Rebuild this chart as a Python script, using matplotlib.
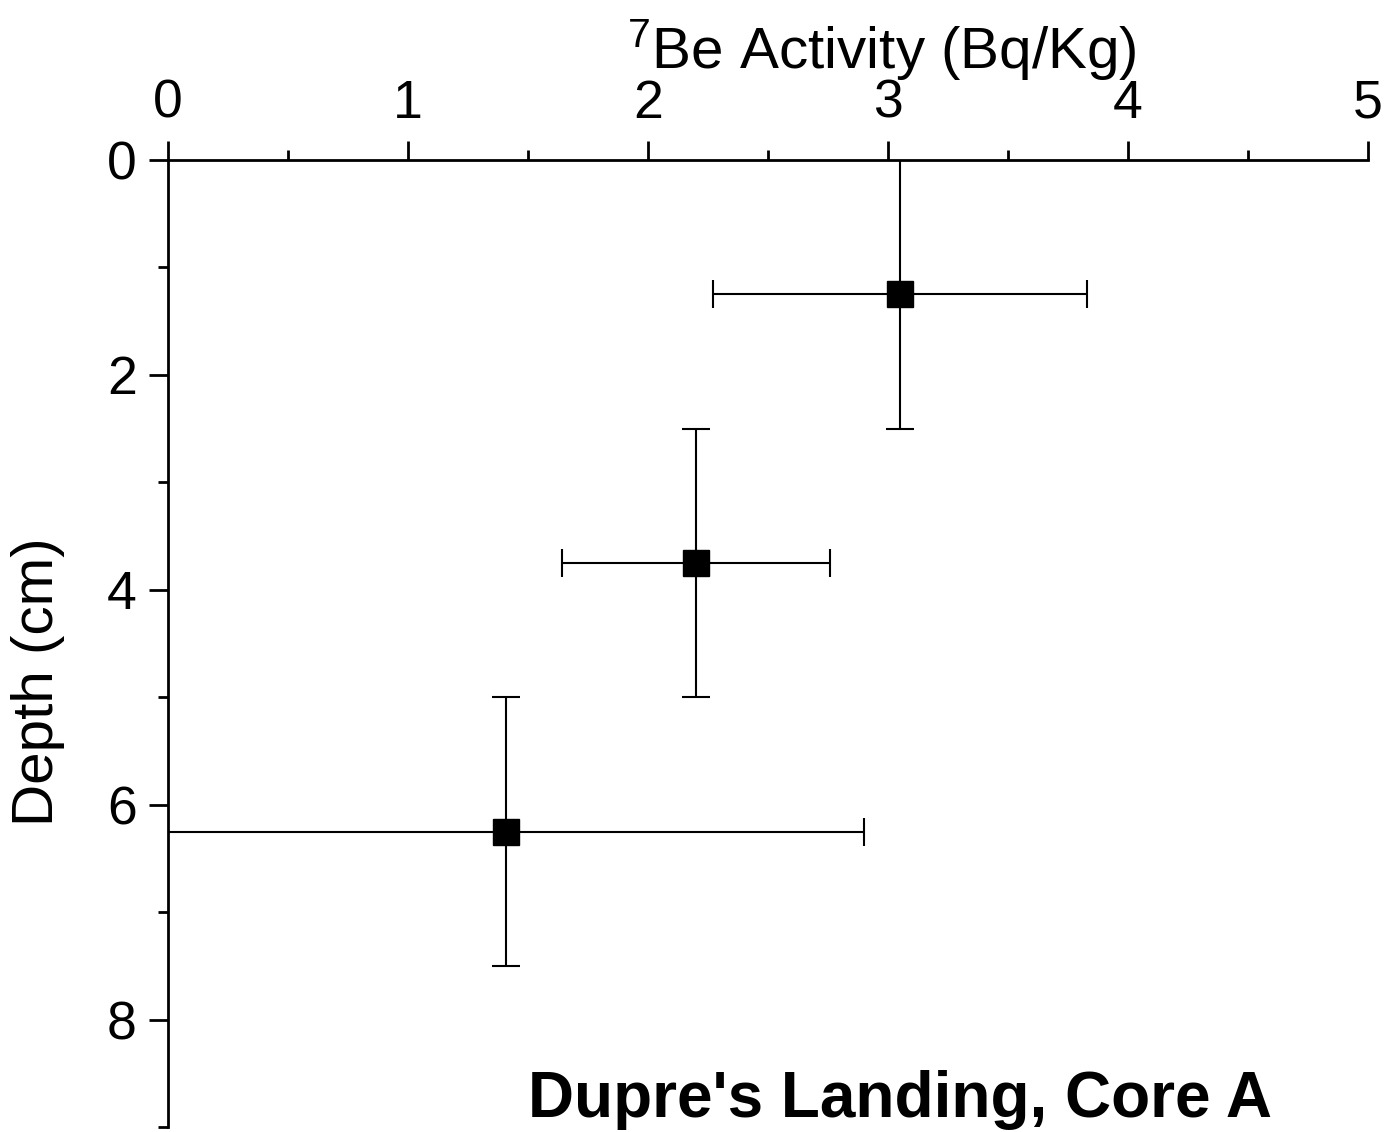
import numpy as np
import matplotlib
matplotlib.use("Agg")
import matplotlib.pyplot as plt
from matplotlib.ticker import MultipleLocator

plt.rcParams["font.family"] = ["Liberation Sans", "DejaVu Sans"]
plt.rcParams["mathtext.fontset"] = "custom"
plt.rcParams["mathtext.rm"] = "Liberation Sans"
plt.rcParams["mathtext.default"] = "regular"

# 7Be activity profile, Dupre's Landing core A
activity = [3.05, 2.20, 1.41]       # Bq/Kg
activity_err = [0.78, 0.56, 1.49]
depth = [1.25, 3.75, 6.25]          # cm
depth_err = [1.25, 1.25, 1.25]

W, H = 1388, 1132
fig = plt.figure(figsize=(W / 100, H / 100), dpi=100)
ax = fig.add_axes([168 / W, 1 - 1127 / H, 1200 / W, 967 / H])

ax.errorbar(activity, depth, xerr=activity_err, yerr=depth_err,
            fmt="s", color="black", ms=18.5, elinewidth=1.5,
            capsize=10, capthick=1.5, clip_on=True)

ax.set_xlim(0, 5)
ax.set_ylim(9, 0)
ax.xaxis.tick_top()
ax.xaxis.set_major_locator(MultipleLocator(1))
ax.xaxis.set_minor_locator(MultipleLocator(0.5))
ax.yaxis.set_major_locator(MultipleLocator(2))
ax.yaxis.set_minor_locator(MultipleLocator(1))

for side in ["right", "bottom"]:
    ax.spines[side].set_visible(False)
for side in ["left", "top"]:
    ax.spines[side].set_linewidth(2)

ax.tick_params(which="major", length=13.5, width=2, labelsize=38.5, pad=9,
               direction="out")
ax.tick_params(which="minor", length=7.5, width=2, direction="out")

fig.text(882 / W, 1 - 68 / H, "$^{7}$Be Activity (Bq/Kg)", fontsize=42,
         ha="center", va="baseline")
fig.text(38 / W, 1 - 682 / H, "Depth (cm)", fontsize=42, rotation=90,
         ha="center", va="center")
fig.text(900 / W, 1 - 1117 / H, "Dupre's Landing, Core A", fontsize=46,
         fontweight="bold", ha="center", va="baseline")

fig.savefig("out.png", dpi=100)
